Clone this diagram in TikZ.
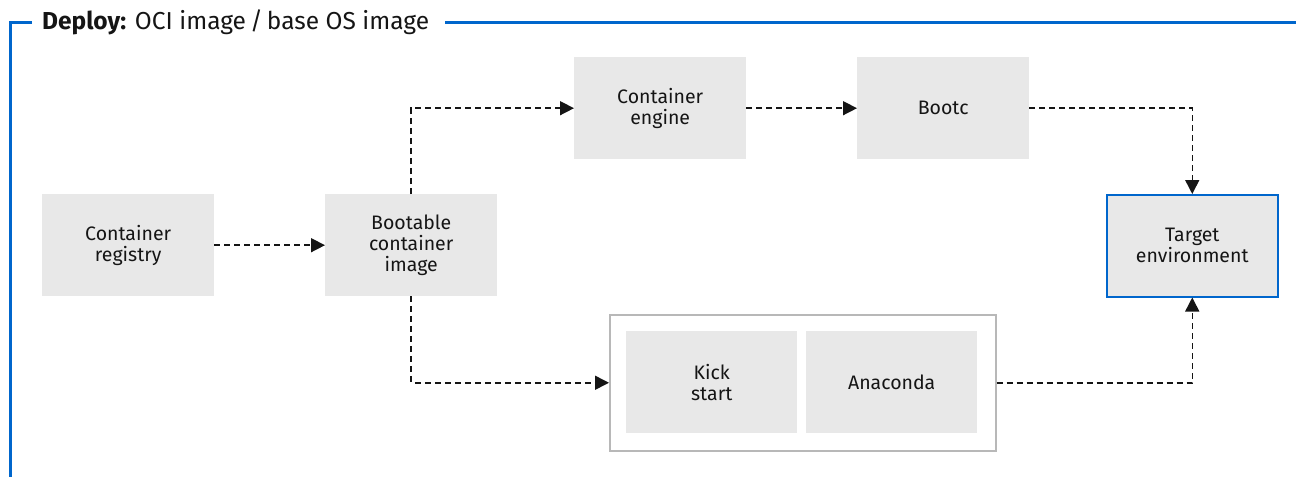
\documentclass[tikz,border=0pt]{standalone}
\usepackage{fontspec}
\setmainfont{Fira Sans}
\usetikzlibrary{arrows.meta}
\definecolor{boxgray}{HTML}{E8E8E8}
\definecolor{framegray}{HTML}{B8B8B8}
\definecolor{rhblue}{HTML}{0066CC}
\definecolor{txt}{HTML}{151515}
\tikzset{
  blk/.style={fill=boxgray, minimum width=172pt, minimum height=102pt, inner sep=0pt,
    align=center, font=\fontsize{19.5}{21}\selectfont, text=txt, anchor=north west},
  conn/.style={draw=txt, line width=1.5pt, dash pattern=on 6pt off 4pt,
    -{Triangle[length=14pt,width=14pt]}},
}
\begin{document}
\begin{tikzpicture}[x=1pt,y=-1pt]
\useasboundingbox (0,0) rectangle (1298,477);
% frame
\draw[rhblue, line width=3pt] (32,22) -- (10,22) -- (10,477);
\draw[rhblue, line width=3pt] (445,22) -- (1296,22);
\node[anchor=west, inner sep=0pt, text=txt, font=\fontsize{24.5}{28}\selectfont] (title) at (42,22)
  {\textbf{Deploy:} OCI image\,/\,base OS image};
% boxes
\node[blk] (reg) at (42,194) {Container\\registry};
\node[blk] (boot) at (325,194) {Bootable\\container\\image};
\node[blk] (eng) at (574,57) {Container\\engine};
\node[blk] (bootc) at (857,57) {Bootc};
\node[blk, minimum width=171pt, draw=rhblue, line width=1.5pt] (target) at (1106,194) {Target\\environment};
\node[draw=framegray, line width=1.5pt, minimum width=386pt, minimum height=136pt, anchor=north west, inner sep=0pt] (outer) at (609,314) {};
\node[blk, minimum width=171pt] (kick) at (626,331) {Kick\\start};
\node[blk, minimum width=171pt] (ana) at (806,331) {Anaconda};
% connectors
\draw[conn] (reg.east) -- (boot.west);
\draw[conn] (boot.north) |- (eng.west);
\draw[conn] (eng.east) -- (bootc.west);
\draw[conn] (bootc.east) -| (target.north);
\draw[conn] (boot.south) |- (outer.west);
\draw[conn] (outer.east) -| (target.south);
\end{tikzpicture}
\end{document}
